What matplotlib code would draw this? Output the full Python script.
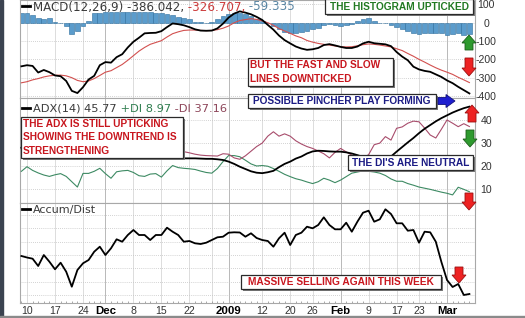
import numpy as np
import pandas as pd
import matplotlib
matplotlib.use('Agg')
import matplotlib.pyplot as plt
from matplotlib.patches import Rectangle, FancyArrow
from matplotlib.lines import Line2D
from matplotlib import font_manager

# ---------------- data ----------------
holidays = ['2008-11-27', '2008-12-25', '2009-01-01', '2009-01-19', '2009-02-16']
days = pd.bdate_range('2008-11-07', '2009-03-06')
days = days[~days.isin(pd.to_datetime(holidays))]

tick_dates = ['2008-11-10', '2008-11-17', '2008-11-24', '2008-12-01', '2008-12-08',
              '2008-12-15', '2008-12-22', '2009-01-02', '2009-01-12', '2009-01-20',
              '2009-01-26', '2009-02-02', '2009-02-09', '2009-02-17', '2009-02-23',
              '2009-03-02']
tick_labels = ['10', '17', '24', 'Dec', '8', '15', '22', '2009', '12', '20', '26',
               'Feb', '9', '17', '23', 'Mar']
bold_labels = ['Dec', '2009', 'Feb', 'Mar']
extra_grid_dates = ['2008-12-29']

macd = [-238, -232, -236, -272, -258, -270, -288, -292, -318, -372,
        -384, -352, -310, -290, -232, -215, -218, -188, -172, -135,
        -104, -82, -58, -56, -55, -46, -24, -4, -8, -14,
        -24, -36, -43, -44, -43, -31, -5, 28, 50, 62,
        55, 46, 32, 15, -12, -38, -70, -95, -113, -130,
        -141, -148, -145, -138, -122, -117, -124, -132, -138, -138,
        -130, -113, -104, -112, -115, -118, -128, -160, -185, -205,
        -240, -255, -263, -268, -282, -296, -315, -330, -350, -368,
        -386.042]
signal = [-328, -322, -312, -305, -296, -290, -287, -286, -290, -300,
          -315, -322, -318, -305, -288, -270, -262, -245, -228, -205,
          -180, -155, -135, -118, -108, -98, -78, -60, -50, -42,
          -40, -40, -42, -43, -42, -38, -30, -18, 0, 12,
          17, 22, 18, 10, 0, -14, -32, -45, -58, -72,
          -82, -97, -106, -113, -118, -122, -127, -131, -132, -131,
          -126, -120, -116, -118, -122, -127, -132, -142, -152, -168,
          -183, -200, -215, -231, -246, -259, -270, -282, -298, -312,
          -326.707]
hist = [55, 55, 40, 28, 22, 26, 2, -4, -20, -62,
        -45, -18, 8, 52, 55, 56, 57, 56, 57, 58,
        57, 56, 57, 56, 55, 54, 50, 42, 32, 24,
        18, 5, 2, 1, 3, 20, 35, 50, 55, 54,
        45, 35, 22, 12, 0, -18, -35, -50, -56, -55,
        -50, -46, -35, -28, -12, -8, -14, -16, -10, -8,
        10, 22, 24, 12, -2, -4, -12, -25, -35, -45,
        -55, -62, -55, -55, -54, -58, -65, -62, -56, -65,
        -59.335]

adx = [28, 28.5, 29, 29.5, 30, 30.5, 31, 31.5, 32, 32.5,
       33, 32.5, 32, 31.5, 31, 30, 29.5, 29, 28.5, 28,
       27, 26.5, 26, 25, 24.5, 24, 23.6, 23.4, 23.4, 23.4,
       23.4, 23.4, 23.3, 23.2, 23.2, 23, 22.7, 22, 21, 19.8,
       18.8, 17.8, 17.2, 17, 17.4, 18, 19.6, 21, 22, 23.3,
       24.2, 25.5, 26.4, 26.7, 26.6, 26.4, 26.3, 26.3, 26, 25.5,
       24.8, 24, 23.5, 23.3, 23.2, 23.5, 24.2, 26.3, 28.3, 30.3,
       32.2, 34.3, 36.2, 37.8, 39.4, 40.8, 42, 43.2, 44.2, 45.1,
       45.77]
plus_di = [17.8, 19.8, 18.2, 17.1, 16.2, 15.6, 16.3, 16.8, 15.6, 13.3,
           11, 16.9, 16.9, 17.8, 19.1, 16.8, 14.8, 17.6, 18, 18.2,
           17.3, 15.9, 15.6, 16.6, 16.8, 15.3, 18, 20.3, 19.4, 19.1,
           18.9, 18.6, 17.9, 17.3, 17, 19, 22, 24.6, 24.6, 24.1,
           22.6, 21, 20.1, 20.3, 20, 19, 17.8, 16.5, 15.5, 14.6,
           14, 13.2, 12.5, 13.3, 14.8, 14, 12.9, 14, 15.5, 17,
           17.5, 18, 17.8, 17.5, 17, 16, 14.5, 13.5, 13.5, 12.5,
           11.8, 11, 10.5, 10, 9.4, 8.8, 8.3, 7.6, 10.9, 10,
           8.97]
minus_di = [31, 32, 31, 33, 34, 33, 35, 34, 36, 38,
            35, 33, 31, 30, 29, 30, 28, 27, 27, 26,
            27, 26, 25, 26, 25, 24, 23.5, 23.2, 24.8, 26.3,
            25.8, 25.2, 24.8, 24.6, 24.5, 24.4, 25.4, 25.2, 23.6, 23,
            24.5, 26.5, 28.5, 30, 33, 34.9, 33, 34, 33, 31,
            29.6, 28.5, 27.7, 26.6, 25.4, 23.6, 26, 27.7, 26.2, 24.8,
            22.7, 23.5, 25, 29.3, 30, 32.8, 31.3, 36.4, 37, 38.6,
            39.5, 39.2, 36.5, 33.5, 32.2, 36, 40, 38.6, 37.1, 38.4,
            37.16]
accum_dist = [47, 45.5, 44.3, 37, 48, 41.3, 33.7, 40.3, 31.3, 16.3,
              33, 39.7, 43, 51.3, 56.3, 48, 54.7, 63.7, 61.3, 68,
              73, 68, 68, 63, 68, 68, 75.3, 71.3, 68, 61.3,
              62, 59.7, 59, 60.3, 63, 65.7, 66.3, 70.3, 70.7, 70.5,
              66.3, 69.7, 65, 63, 62, 56.3, 64.7, 70.3, 58, 68,
              70.3, 76.3, 74.7, 78, 85.7, 78, 73.7, 73.7, 80.3, 71.3,
              81.3, 90.3, 92.3, 81.3, 83.7, 93.7, 89, 79.7, 79.7, 72.3,
              73, 60.3, 71.3, 70.7, 61.3, 41, 23, 16, 19, 8,
              9]

macd_ticks = [100, 0, -100, -200, -300, -400]
adx_ticks = [10, 20, 30, 40]
ad_grid = [8, 21, 35, 48, 61, 75, 88]

# ---------------- layout ----------------
W, H = 525, 318
fig = plt.figure(figsize=(W / 100, H / 100), dpi=100)
fig.patch.set_facecolor('white')


def rect(x0, y0, x1, y1):
    return [x0 / W, 1 - y1 / H, (x1 - x0) / W, (y1 - y0) / H]


ax1 = fig.add_axes(rect(20, 0, 475, 98))
ax2 = fig.add_axes(rect(20, 98, 475, 203))
ax3 = fig.add_axes(rect(20, 203, 475, 303))

x = np.arange(len(days))
tick_pos = days.get_indexer(pd.to_datetime(tick_dates))
extra_pos = days.get_indexer(pd.to_datetime(extra_grid_dates))

TICK_FONT = 'Liberation Sans'
for ax in (ax1, ax2, ax3):
    ax.set_xlim(-0.25, 81.0)
    for s in ax.spines.values():
        s.set_color('#a8a8a8')
        s.set_linewidth(0.8)
    ax.yaxis.tick_right()
    ax.tick_params(axis='y', length=0, pad=8, labelsize=7.6, labelcolor='#333333')
    ax.tick_params(axis='x', which='both', length=0)
    for p, lab in zip(tick_pos, tick_labels):
        c = '#b8b8b8' if lab in bold_labels else '#dcdcdc'
        ax.axvline(p, color=c, lw=0.7, zorder=0)
    for p in extra_pos:
        ax.axvline(p, color='#dcdcdc', lw=0.7, zorder=0)
    ax.grid(axis='y', ls=(0, (1, 1.5)), color='#c4c4c4', lw=0.6)
    ax.set_axisbelow(True)
    ax.set_xticks(tick_pos)
    ax.set_xticklabels([])

# MACD panel
ax1.bar(x, hist, width=0.86, color='#5b9ccc', edgecolor='#2d6d9c', lw=0.4, zorder=2)
ax1.plot(x, signal, color='#d2504f', lw=0.8, zorder=3)
ax1.plot(x, macd, color='black', lw=1.3, zorder=4)
ax1.set_ylim(-411, 124)
ax1.set_yticks(macd_ticks)
ax1.set_yticklabels([str(t) for t in macd_ticks])

# ADX panel
ax2.plot(x, plus_di, color='#3d8a63', lw=0.8, zorder=3)
ax2.plot(x, minus_di, color='#a84d6c', lw=0.8, zorder=3)
ax2.plot(x, adx, color='black', lw=1.3, zorder=4)
ax2.set_ylim(4.1, 49.5)
ax2.set_yticks(adx_ticks)
ax2.set_yticklabels([str(t) for t in adx_ticks])

# Accum/Dist panel
ax3.plot(x, accum_dist, color='black', lw=1.3, zorder=4)
ax3.set_ylim(0, 100)
ax3.set_yticks(ad_grid)
ax3.set_yticklabels([])
ax3.set_xticks(x, minor=True)
ax3.tick_params(axis='x', which='minor', length=1.5, direction='in', color='#999999')
ax3.set_xticklabels(tick_labels)
ax3.tick_params(axis='x', which='major', pad=2.5, labelsize=7.6, labelcolor='#333333')
for ax in (ax1, ax2, ax3):
    for lab in ax.get_yticklabels():
        lab.set_horizontalalignment('center')
        lab.set_fontfamily(TICK_FONT)
for lab in ax3.get_xticklabels():
    lab.set_fontfamily(TICK_FONT)
    if lab.get_text() in bold_labels:
        lab.set_fontweight('bold')
        lab.set_color('black')
        lab.set_fontsize(8.2)

# ---------------- overlay (pixel coords) ----------------
ov = fig.add_axes([0, 0, 1, 1])
ov.set_xlim(0, W)
ov.set_ylim(H, 0)
ov.axis('off')
ov.set_zorder(10)
ov.patch.set_alpha(0)

ov.add_patch(Rectangle((0, 0), 3, H, color='#3b4350'))
ov.add_patch(Rectangle((0, 315.5), W, 2.5, color='#8a8a8a'))


def legend(y, parts, size):
    kw = dict(fontsize=size, family='DejaVu Sans', va='center_baseline', ha='left')
    ov.add_line(Line2D([22, 30], [y, y], color='black', lw=2))
    t = ov.text(33, y, parts[0][0], color=parts[0][1], **kw)
    for s, c in parts[1:]:
        t = ov.annotate(s, xy=(1, 0), xycoords=t, color=c,
                        fontsize=size, family='DejaVu Sans', va='bottom', ha='left')


legend(5.5, [('MACD(12,26,9) -386.042,', '#3a3a3a'), (' -326.707,', '#cc3b3b'),
             (' -59.335', '#5b87a5')], 8.6)
legend(107.5, [('ADX(14) 45.77', '#3a3a3a'), (' +DI 8.97', '#2f7d4f'),
               (' -DI 37.16', '#8c4458')], 8.2)
legend(209, [('Accum/Dist', '#3a3a3a')], 8.0)


def has_font(name):
    try:
        font_manager.findfont(name, fallback_to_default=False)
        return True
    except Exception:
        return False


narrow = has_font('Liberation Sans Narrow')
BOX_FAMILY = 'Liberation Sans Narrow' if narrow else 'Liberation Sans'
BOX_SIZE = 8.6 if narrow else 7.3


def box(x0, y0, x1, y1, lines, color, ys, ha='center', tx=None):
    ov.add_patch(Rectangle((x0 + 1.5, y0 + 1.5), x1 - x0, y1 - y0, fc='#7a7a7a', ec='none'))
    ov.add_patch(Rectangle((x0, y0), x1 - x0, y1 - y0, fc='white', ec='#2a2a2a', lw=0.9))
    xt = (x0 + x1) / 2 if ha == 'center' else tx
    for s, yy in zip(lines, ys):
        ov.text(xt, yy, s, color=color, ha=ha, va='center', fontsize=BOX_SIZE,
                family=BOX_FAMILY, fontweight='bold')


RED = '#c8161e'
GREEN = '#237a23'
NAVY = '#1b1b84'
box(325, -1, 473, 14, ['THE HISTOGRAM UPTICKED'], GREEN, [6.8])
box(248, 58, 393, 86, ['BUT THE FAST AND SLOW', 'LINES DOWNTICKED'], RED, [65.5, 79],
    ha='left', tx=250.5)
box(248, 94, 436, 108, ['POSSIBLE PINCHER PLAY FORMING'], NAVY, [101.2])
box(21, 117, 183, 158, ['THE ADX IS STILL UPTICKING', 'SHOWING THE DOWNTREND IS',
                        'STRENGTHENING'], RED, [124, 137.5, 151], ha='left', tx=23)
box(348, 155, 473, 170, ["THE DI'S ARE NEUTRAL"], NAVY, [162.5])
box(241, 275, 441, 289, ['MASSIVE SELLING AGAIN THIS WEEK'], RED, [282.2])


def arrow(xs, ys, xe, ye, fc, ec, w=8, hw=14, hl=8):
    ov.add_patch(FancyArrow(xs, ys, xe - xs, ye - ys, width=w, head_width=hw,
                            head_length=hl, length_includes_head=True,
                            fc=fc, ec=ec, lw=0.6))


arrow(469, 50, 469, 35, '#2e9a2e', '#1d5e1d')      # green up (MACD)
arrow(469, 58, 469, 76, '#ee2222', '#9a1010')      # red down (MACD)
arrow(472, 122, 472, 105, '#ee2222', '#9a1010')    # red up (ADX)
arrow(470, 130, 470, 147, '#2e9a2e', '#1d5e1d')    # green down (DI)
arrow(469, 193, 469, 210, '#ee2222', '#9a1010')    # red down (DI)
arrow(459, 267, 459, 283, '#ee2222', '#9a1010')    # red down (AD)
arrow(438, 101, 455, 101, '#1f1fd0', '#10107a', w=7, hw=13, hl=9)  # blue right

fig.savefig('out.png', dpi=100, facecolor='white')
